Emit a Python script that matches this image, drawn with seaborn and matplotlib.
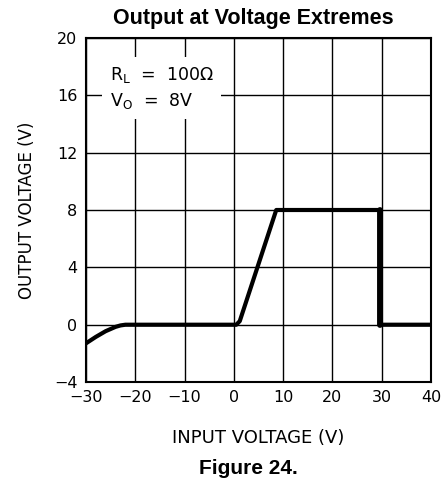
import numpy as np
import pandas as pd
import seaborn as sns
import matplotlib.pyplot as plt

# =====================================================
# DATA
# =====================================================
input_v = [-30, -28, -26, -24, -23, -22, -20, 0.5, 1.2, 8.6, 29.6, 29.6, 40]
output_v = [-1.3, -0.85, -0.45, -0.15, -0.05, 0.0, 0.0, 0.0, 0.25, 8.0, 8.0, 0.0, 0.0]

drop_x = [29.6, 29.6]
drop_y = [8.0, 0.0]

x_ticks = [-30, -20, -10, 0, 10, 20, 30, 40]
y_ticks = [-4, 0, 4, 8, 12, 16, 20]

TITLE = "Output at Voltage Extremes"
CAPTION = "Figure 24."
X_LABEL = "INPUT VOLTAGE (V)"
Y_LABEL = "OUTPUT VOLTAGE (V)"

df = pd.DataFrame({"vin": input_v, "vout": output_v})
df_drop = pd.DataFrame({"vin": drop_x, "vout": drop_y})

# =====================================================
# PLOT
# =====================================================
sns.set_style("white")
plt.rcParams["font.family"] = ["DejaVu Sans"]
plt.rcParams["font.sans-serif"] = ["DejaVu Sans"]
plt.rcParams["text.color"] = "black"
plt.rcParams["axes.labelcolor"] = "black"
plt.rcParams["xtick.color"] = "black"
plt.rcParams["ytick.color"] = "black"

fig = plt.figure(figsize=(4.43, 4.8), dpi=100)
ax = fig.add_axes([0.194, 0.204, 0.779, 0.717])

# grid first so the line sits on top
for xv in x_ticks:
    ax.axvline(xv, color="black", lw=1.0, zorder=1)
for yv in y_ticks:
    ax.axhline(yv, color="black", lw=1.0, zorder=1)

sns.lineplot(data=df, x="vin", y="vout", ax=ax, color="black", lw=3.0,
             sort=False, estimator=None, zorder=3)
sns.lineplot(data=df_drop, x="vin", y="vout", ax=ax, color="black", lw=4.2,
             sort=False, estimator=None, zorder=3)

ax.set_xlim(-30, 40)
ax.set_ylim(-4, 20)
ax.set_xticks(x_ticks)
ax.set_yticks(y_ticks)
ax.set_xticklabels([str(t).replace("-", "\u2212") for t in x_ticks], fontsize=11.5)
ax.set_yticklabels([str(t).replace("-", "\u2212") for t in y_ticks], fontsize=11.5)
ax.tick_params(length=0, pad=6, colors="black")

for s in ax.spines.values():
    s.set_color("black")
    s.set_linewidth(1.5)
    s.set_zorder(4)

ax.set_xlabel(X_LABEL, fontsize=13, labelpad=17, color="black")
ax.set_ylabel(Y_LABEL, fontsize=12, labelpad=13, color="black")

# annotation box (white block hides the grid behind it)
ax.text(-25.2, 16.5, "R$_\\mathregular{L}$  =  100\u03a9\nV$_\\mathregular{O}$  =  8V",
        fontsize=12.5, va="center", ha="left", linespacing=1.45, zorder=5,
        color="black",
        bbox=dict(boxstyle="square,pad=0.45", fc="white", ec="none"))

fig.text(0.571, 0.962, TITLE, ha="center", va="center", fontsize=15.5,
         fontweight="bold", family="Liberation Sans", color="black")
fig.text(0.56, 0.025, CAPTION, ha="center", va="center", fontsize=15,
         fontweight="bold", family="Liberation Sans", color="black")

fig.savefig("out.png", dpi=100)
